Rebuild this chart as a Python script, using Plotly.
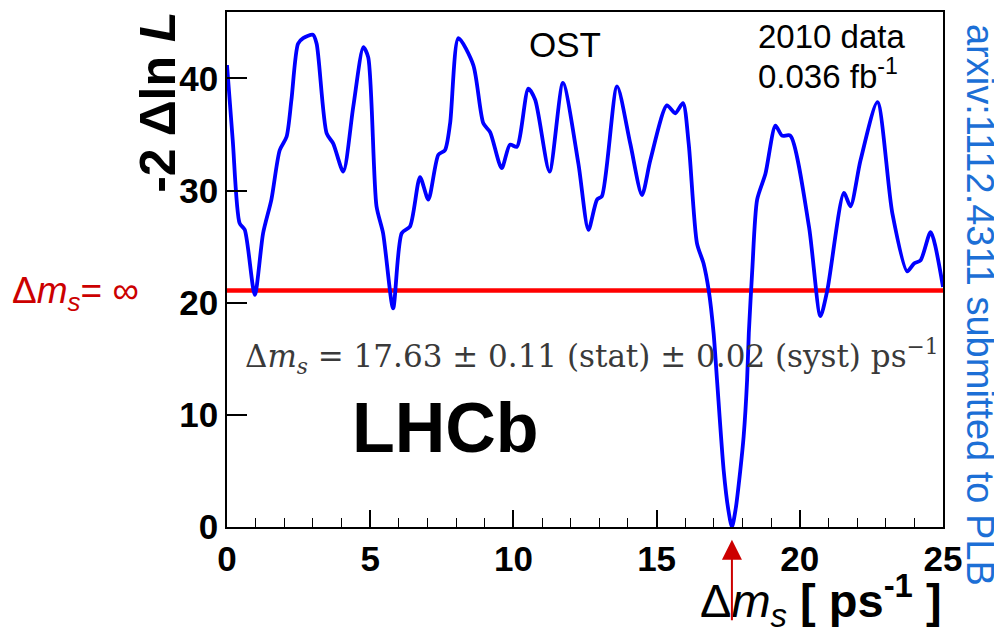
import plotly.graph_objects as go

# ---------------- data ----------------
dms = [0.0, 0.2, 0.44, 0.62, 0.97, 1.26, 1.55, 1.84, 2.08, 2.25, 2.48, 2.66, 3.0, 3.13,
       3.48, 3.71, 4.06, 4.41, 4.76, 4.93, 5.22, 5.45, 5.80, 6.10, 6.39, 6.74, 7.03,
       7.38, 7.61, 7.79, 8.08, 8.60, 8.95, 9.19, 9.59, 9.88, 10.12, 10.52, 10.76,
       11.26, 11.73, 12.27, 12.62, 12.92, 13.09, 13.62, 14.08, 14.49, 14.78, 15.36,
       15.65, 15.92, 16.12, 16.41, 16.64, 16.82, 16.99, 17.11, 17.34, 17.50, 17.63,
       17.76, 17.92, 18.04, 18.16, 18.22, 18.34, 18.51, 18.80, 19.15, 19.38, 19.67,
       20.32, 20.72, 20.96, 21.54, 21.77, 22.12, 22.71, 23.23, 23.75, 23.99, 24.22,
       24.57, 25.0]
nll = [41.2, 34.5, 27.1, 26.5, 20.7, 26.2, 29.2, 33.6, 34.8, 38.1, 43.1, 43.6, 43.9, 43.1,
       35.1, 34.2, 31.7, 37.5, 42.8, 41.9, 28.6, 26.2, 19.5, 26.2, 26.8, 31.2, 29.2,
       33.2, 33.6, 36.0, 43.6, 41.2, 36.0, 35.2, 32.0, 34.1, 33.9, 39.1, 38.1,
       31.7, 39.6, 32.4, 26.5, 29.2, 29.5, 39.3, 34.2, 29.6, 32.7, 37.6,
       36.9, 37.8, 34.2, 25.3, 23.5, 21.1, 17.3, 13.1, 5.1, 1.6, 0.0,
       1.6, 5.0, 8.1, 13.1, 17.3, 22.9, 29.2, 31.5, 35.8, 34.9, 34.9,
       26.8, 18.8, 21.1, 29.8, 28.6, 32.7, 37.9, 28.0, 22.8, 23.5, 23.8,
       26.3, 21.4]
dms_inf_level = 21.1          # -2 Delta lnL at Delta m_s = infinity
dms_result = 17.63            # fitted value (arrow)
x_range = [0, 25]
y_range = [0, 45.93]
x_ticks = [0, 5, 10, 15, 20, 25]
y_ticks = [0, 10, 20, 30, 40]

# ---------------- layout helpers (window pixel -> paper) ----------------
OFF = 8  # default page body margin
L, R, T, B = 227.3, 943.0, 11.7, 527.3
def pxx(xp):
    return (xp - L) / (R - L)
def pxy(yp):
    return (B - yp) / (B - T)

SANS = "Arial, Liberation Sans, Helvetica, sans-serif"
SERIF = "DejaVu Serif, serif"

fig = go.Figure()
fig.add_trace(go.Scatter(x=x_range, y=[dms_inf_level, dms_inf_level], mode="lines",
                         line=dict(color="#ff0000", width=4.5), hoverinfo="skip",
                         showlegend=False))
fig.add_trace(go.Scatter(x=dms, y=nll, mode="lines",
                         line=dict(color="#0000ff", width=3.8, shape="spline", smoothing=0.7),
                         showlegend=False))

ann = []
ann.append(dict(text="OST", x=pxx(565), y=pxy(44), xref="paper", yref="paper",
                xanchor="center", yanchor="middle", showarrow=False,
                font=dict(family=SANS, size=35, color="black")))
ann.append(dict(text="2010 data", x=pxx(756), y=pxy(36), xref="paper", yref="paper",
                xanchor="left", yanchor="middle", showarrow=False,
                font=dict(family=SANS, size=33, color="black")))
ann.append(dict(text="0.036 fb<sup>-1</sup>", x=pxx(756), y=pxy(74), xref="paper", yref="paper",
                xanchor="left", yanchor="middle", showarrow=False,
                font=dict(family=SANS, size=33, color="black")))
ann.append(dict(text="<b>LHCb</b>", x=pxx(446), y=pxy(428), xref="paper", yref="paper",
                xanchor="center", yanchor="middle", showarrow=False,
                font=dict(family=SANS, size=70, color="black")))
ann.append(dict(text="Δ<i>m</i><sub><i>s</i></sub> = 17.63 ± 0.11 (stat) ± 0.02 (syst) ps<sup>−1</sup>",
                x=pxx(592), y=pxy(357), xref="paper", yref="paper",
                xanchor="center", yanchor="middle", showarrow=False,
                font=dict(family=SERIF, size=31, color="#3a3a3a")))
ann.append(dict(text="Δ<i>m</i><sub><i>s</i></sub>= ∞", x=pxx(10), y=pxy(293), xref="paper", yref="paper",
                xanchor="left", yanchor="middle", showarrow=False,
                font=dict(family=SANS, size=37, color="#cc0000")))
ann.append(dict(text="arxiv:1112.4311 submitted to PLB", x=pxx(980), y=pxy(305),
                xref="paper", yref="paper", xanchor="center", yanchor="middle",
                textangle=90, showarrow=False,
                font=dict(family=SANS, size=38, color="#1c6fd6")))
ann.append(dict(text="<b>-2 Δln <i>L</i></b>", x=pxx(159), y=pxy(102),
                xref="paper", yref="paper", xanchor="center", yanchor="middle",
                textangle=-90, showarrow=False,
                font=dict(family=SANS, size=50, color="black")))
ann.append(dict(text="Δ<i>m</i><sub><i>s</i></sub> <b>[ ps<sup>-1</sup> ]</b>", x=pxx(944), y=pxy(601),
                xref="paper", yref="paper", xanchor="right", yanchor="middle",
                showarrow=False, font=dict(family=SANS, size=47, color="black")))
ann.append(dict(text="", x=dms_result, y=pxy(540), xref="x", yref="paper",
                showarrow=True, ax=0, ay=82, axref="pixel", ayref="pixel",
                arrowcolor="#cc0000", arrowwidth=2, arrowhead=2, arrowsize=2.0))

W_FIG, H_FIG = 1002 - OFF, 633 - OFF
fig.update_layout(
    width=W_FIG, height=H_FIG,
    margin=dict(l=L - OFF, r=W_FIG - (R - OFF), t=T - OFF, b=H_FIG - (B - OFF)),
    paper_bgcolor="white", plot_bgcolor="white",
    annotations=ann,
    xaxis=dict(range=x_range, tickvals=x_ticks, ticks="inside", ticklen=17, tickwidth=1.5,
               tickcolor="black", showline=True, linecolor="black", linewidth=1.5,
               mirror=True, showgrid=False, zeroline=False,
               minor=dict(dtick=1, ticks="inside", ticklen=9, tickwidth=1.2, tickcolor="black"),
               tickfont=dict(family=SANS, size=35, color="black", weight="bold")),
    yaxis=dict(range=y_range, tickvals=y_ticks, ticks="inside", ticklen=20, tickwidth=1.5,
               tickcolor="black", showline=True, linecolor="black", linewidth=1.5,
               mirror=True, showgrid=False, zeroline=False,
               tickfont=dict(family=SANS, size=35, color="black", weight="bold")),
)

fig.write_html("out.html")
